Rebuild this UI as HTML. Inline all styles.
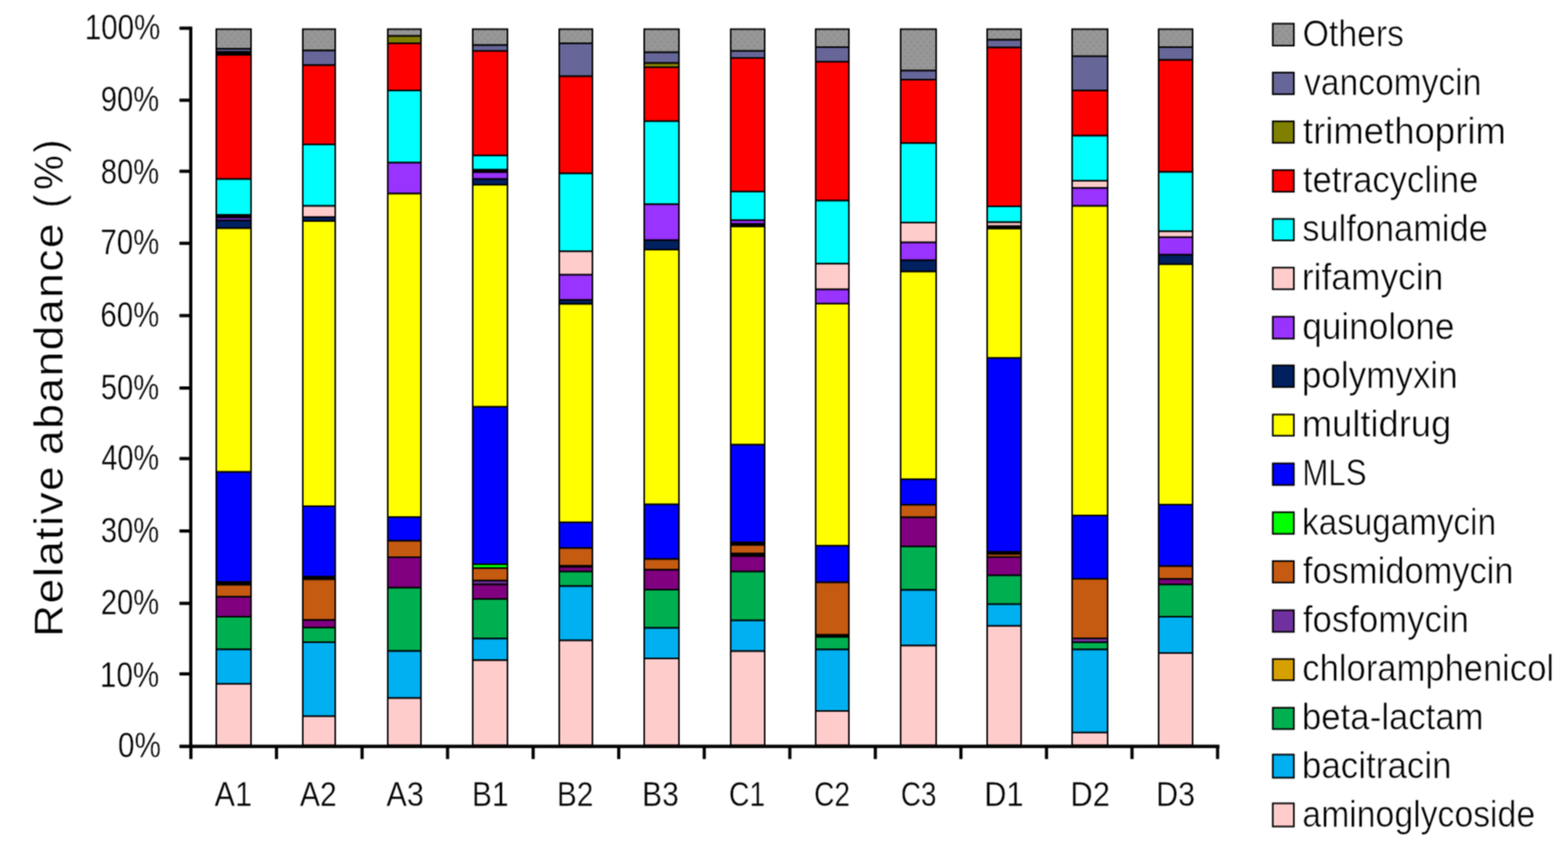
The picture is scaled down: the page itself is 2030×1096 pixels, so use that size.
<!DOCTYPE html>
<html lang="en"><head><meta charset="utf-8"><title>Relative abandance (%)</title>
<style>html,body{margin:0;padding:0;background:#fff;}body{width:2030px;height:1096px;overflow:hidden;}svg{display:block;}#chart{width:2030px;height:1096px;overflow:hidden;}text{font-family:"Liberation Sans",Arial,sans-serif;fill:#000;stroke:#fff;stroke-width:0;}.lg{stroke-width:0.7px;}.ax{stroke-width:0.4px;}.ti{stroke-width:0.4px;}</style></head><body>
<div id="chart"><svg width="2030" height="1096" viewBox="0 0 2030 1096">
<defs><filter id="soft" x="0" y="0" width="2030" height="1096" filterUnits="userSpaceOnUse" color-interpolation-filters="sRGB"><feConvolveMatrix order="3" kernelMatrix="1 2 1 2 4 2 1 2 1" divisor="16" edgeMode="duplicate" preserveAlpha="true"/></filter><pattern id="dots" width="8.3" height="9.4" patternUnits="userSpaceOnUse" patternTransform="translate(3.2,0.5)"><rect width="8.3" height="9.4" fill="#979797"/><circle cx="2" cy="2.2" r="1.35" fill="#898989"/><circle cx="6.15" cy="6.9" r="1.35" fill="#898989"/></pattern></defs>
<g filter="url(#soft)">
<rect width="2030" height="1096" fill="#fff"/>
<g stroke="#000" stroke-width="2.0">
<rect x="280.0" y="37.7" width="45.0" height="25.5" fill="url(#dots)"/>
<rect x="280.0" y="63.2" width="45.0" height="4.0" fill="#666699"/>
<rect x="280.0" y="67.2" width="45.0" height="3.8" fill="#000000"/>
<rect x="280.0" y="71.0" width="45.0" height="160.7" fill="#FF0000"/>
<rect x="280.0" y="231.7" width="45.0" height="46.3" fill="#00FFFF"/>
<rect x="280.0" y="278.0" width="45.0" height="3.6" fill="#000000"/>
<rect x="280.0" y="281.6" width="45.0" height="3.7" fill="#9933FF"/>
<rect x="280.0" y="285.3" width="45.0" height="10.0" fill="#002060"/>
<rect x="280.0" y="295.3" width="45.0" height="315.4" fill="#FFFF00"/>
<rect x="280.0" y="610.7" width="45.0" height="142.3" fill="#0000FF"/>
<rect x="280.0" y="753.0" width="45.0" height="3.7" fill="#000000"/>
<rect x="280.0" y="756.7" width="45.0" height="15.5" fill="#C55A11"/>
<rect x="280.0" y="772.2" width="45.0" height="25.8" fill="#800080"/>
<rect x="280.0" y="798.0" width="45.0" height="42.3" fill="#00B050"/>
<rect x="280.0" y="840.3" width="45.0" height="44.6" fill="#00B0F0"/>
<rect x="280.0" y="884.9" width="45.0" height="79.6" fill="#FFCCCC"/>
<rect x="392.0" y="37.7" width="42.0" height="27.7" fill="url(#dots)"/>
<rect x="392.0" y="65.4" width="42.0" height="18.9" fill="#666699"/>
<rect x="392.0" y="84.3" width="42.0" height="102.6" fill="#FF0000"/>
<rect x="392.0" y="186.9" width="42.0" height="79.6" fill="#00FFFF"/>
<rect x="392.0" y="266.5" width="42.0" height="14.4" fill="#FFCCCC"/>
<rect x="392.0" y="280.9" width="42.0" height="5.1" fill="#002060"/>
<rect x="392.0" y="286.0" width="42.0" height="369.0" fill="#FFFF00"/>
<rect x="392.0" y="655.0" width="42.0" height="91.3" fill="#0000FF"/>
<rect x="392.0" y="746.3" width="42.0" height="3.3" fill="#000000"/>
<rect x="392.0" y="749.6" width="42.0" height="52.7" fill="#C55A11"/>
<rect x="392.0" y="802.3" width="42.0" height="9.8" fill="#800080"/>
<rect x="392.0" y="812.1" width="42.0" height="18.9" fill="#00B050"/>
<rect x="392.0" y="831.0" width="42.0" height="95.8" fill="#00B0F0"/>
<rect x="392.0" y="926.8" width="42.0" height="37.7" fill="#FFCCCC"/>
<rect x="502.0" y="37.7" width="43.0" height="8.9" fill="url(#dots)"/>
<rect x="502.0" y="46.6" width="43.0" height="9.5" fill="#808000"/>
<rect x="502.0" y="56.1" width="43.0" height="61.0" fill="#FF0000"/>
<rect x="502.0" y="117.1" width="43.0" height="93.4" fill="#00FFFF"/>
<rect x="502.0" y="210.5" width="43.0" height="40.0" fill="#9933FF"/>
<rect x="502.0" y="250.5" width="43.0" height="418.6" fill="#FFFF00"/>
<rect x="502.0" y="669.1" width="43.0" height="30.7" fill="#0000FF"/>
<rect x="502.0" y="699.8" width="43.0" height="21.2" fill="#C55A11"/>
<rect x="502.0" y="721.0" width="43.0" height="39.5" fill="#800080"/>
<rect x="502.0" y="760.5" width="43.0" height="81.9" fill="#00B050"/>
<rect x="502.0" y="842.4" width="43.0" height="60.9" fill="#00B0F0"/>
<rect x="502.0" y="903.3" width="43.0" height="61.2" fill="#FFCCCC"/>
<rect x="612.0" y="37.7" width="45.0" height="20.7" fill="url(#dots)"/>
<rect x="612.0" y="58.4" width="45.0" height="7.5" fill="#666699"/>
<rect x="612.0" y="65.9" width="45.0" height="135.3" fill="#FF0000"/>
<rect x="612.0" y="201.2" width="45.0" height="18.5" fill="#00FFFF"/>
<rect x="612.0" y="219.7" width="45.0" height="3.1" fill="#000000"/>
<rect x="612.0" y="222.8" width="45.0" height="8.9" fill="#9933FF"/>
<rect x="612.0" y="231.7" width="45.0" height="7.4" fill="#002060"/>
<rect x="612.0" y="239.1" width="45.0" height="287.4" fill="#FFFF00"/>
<rect x="612.0" y="526.5" width="45.0" height="203.6" fill="#0000FF"/>
<rect x="612.0" y="730.1" width="45.0" height="5.1" fill="#00FF00"/>
<rect x="612.0" y="735.2" width="45.0" height="16.2" fill="#C55A11"/>
<rect x="612.0" y="751.4" width="45.0" height="4.9" fill="#7030A0"/>
<rect x="612.0" y="756.3" width="45.0" height="18.8" fill="#800080"/>
<rect x="612.0" y="775.1" width="45.0" height="51.2" fill="#00B050"/>
<rect x="612.0" y="826.3" width="45.0" height="28.0" fill="#00B0F0"/>
<rect x="612.0" y="854.3" width="45.0" height="110.2" fill="#FFCCCC"/>
<rect x="724.0" y="37.7" width="43.0" height="18.4" fill="url(#dots)"/>
<rect x="724.0" y="56.1" width="43.0" height="42.6" fill="#666699"/>
<rect x="724.0" y="98.7" width="43.0" height="125.7" fill="#FF0000"/>
<rect x="724.0" y="224.4" width="43.0" height="100.8" fill="#00FFFF"/>
<rect x="724.0" y="325.2" width="43.0" height="30.4" fill="#FFCCCC"/>
<rect x="724.0" y="355.6" width="43.0" height="32.4" fill="#9933FF"/>
<rect x="724.0" y="388.0" width="43.0" height="5.3" fill="#002060"/>
<rect x="724.0" y="393.3" width="43.0" height="282.6" fill="#FFFF00"/>
<rect x="724.0" y="675.9" width="43.0" height="33.3" fill="#0000FF"/>
<rect x="724.0" y="709.2" width="43.0" height="23.0" fill="#C55A11"/>
<rect x="724.0" y="732.2" width="43.0" height="1.4" fill="#000000"/>
<rect x="724.0" y="733.6" width="43.0" height="6.0" fill="#800080"/>
<rect x="724.0" y="739.6" width="43.0" height="18.8" fill="#00B050"/>
<rect x="724.0" y="758.4" width="43.0" height="70.3" fill="#00B0F0"/>
<rect x="724.0" y="828.7" width="43.0" height="135.8" fill="#FFCCCC"/>
<rect x="834.0" y="37.7" width="45.0" height="30.0" fill="url(#dots)"/>
<rect x="834.0" y="67.7" width="45.0" height="13.9" fill="#666699"/>
<rect x="834.0" y="81.6" width="45.0" height="5.4" fill="#808000"/>
<rect x="834.0" y="87.0" width="45.0" height="69.8" fill="#FF0000"/>
<rect x="834.0" y="156.8" width="45.0" height="107.5" fill="#00FFFF"/>
<rect x="834.0" y="264.3" width="45.0" height="46.5" fill="#9933FF"/>
<rect x="834.0" y="310.8" width="45.0" height="12.2" fill="#002060"/>
<rect x="834.0" y="323.0" width="45.0" height="329.7" fill="#FFFF00"/>
<rect x="834.0" y="652.7" width="45.0" height="70.7" fill="#0000FF"/>
<rect x="834.0" y="723.4" width="45.0" height="13.9" fill="#C55A11"/>
<rect x="834.0" y="737.3" width="45.0" height="25.7" fill="#800080"/>
<rect x="834.0" y="763.0" width="45.0" height="49.5" fill="#00B050"/>
<rect x="834.0" y="812.5" width="45.0" height="39.5" fill="#00B0F0"/>
<rect x="834.0" y="852.0" width="45.0" height="112.5" fill="#FFCCCC"/>
<rect x="946.0" y="37.7" width="44.0" height="28.2" fill="url(#dots)"/>
<rect x="946.0" y="65.9" width="44.0" height="9.1" fill="#666699"/>
<rect x="946.0" y="75.0" width="44.0" height="172.9" fill="#FF0000"/>
<rect x="946.0" y="247.9" width="44.0" height="37.0" fill="#00FFFF"/>
<rect x="946.0" y="284.9" width="44.0" height="4.9" fill="#9933FF"/>
<rect x="946.0" y="289.8" width="44.0" height="3.3" fill="#000000"/>
<rect x="946.0" y="293.1" width="44.0" height="282.4" fill="#FFFF00"/>
<rect x="946.0" y="575.5" width="44.0" height="126.4" fill="#0000FF"/>
<rect x="946.0" y="701.9" width="44.0" height="3.3" fill="#000000"/>
<rect x="946.0" y="705.2" width="44.0" height="11.1" fill="#C55A11"/>
<rect x="946.0" y="716.3" width="44.0" height="3.3" fill="#000000"/>
<rect x="946.0" y="719.6" width="44.0" height="20.0" fill="#800080"/>
<rect x="946.0" y="739.6" width="44.0" height="63.2" fill="#00B050"/>
<rect x="946.0" y="802.8" width="44.0" height="39.8" fill="#00B0F0"/>
<rect x="946.0" y="842.6" width="44.0" height="121.9" fill="#FFCCCC"/>
<rect x="1056.0" y="37.7" width="43.0" height="23.3" fill="url(#dots)"/>
<rect x="1056.0" y="61.0" width="43.0" height="18.9" fill="#666699"/>
<rect x="1056.0" y="79.9" width="43.0" height="179.7" fill="#FF0000"/>
<rect x="1056.0" y="259.6" width="43.0" height="81.6" fill="#00FFFF"/>
<rect x="1056.0" y="341.2" width="43.0" height="33.3" fill="#FFCCCC"/>
<rect x="1056.0" y="374.5" width="43.0" height="18.4" fill="#9933FF"/>
<rect x="1056.0" y="392.9" width="43.0" height="313.4" fill="#FFFF00"/>
<rect x="1056.0" y="706.3" width="43.0" height="47.3" fill="#0000FF"/>
<rect x="1056.0" y="753.6" width="43.0" height="68.0" fill="#C55A11"/>
<rect x="1056.0" y="821.6" width="43.0" height="2.6" fill="#000000"/>
<rect x="1056.0" y="824.2" width="43.0" height="16.2" fill="#00B050"/>
<rect x="1056.0" y="840.4" width="43.0" height="79.6" fill="#00B0F0"/>
<rect x="1056.0" y="920.0" width="43.0" height="44.5" fill="#FFCCCC"/>
<rect x="1166.0" y="37.7" width="46.0" height="53.7" fill="url(#dots)"/>
<rect x="1166.0" y="91.4" width="46.0" height="11.7" fill="#666699"/>
<rect x="1166.0" y="103.1" width="46.0" height="82.1" fill="#FF0000"/>
<rect x="1166.0" y="185.2" width="46.0" height="102.8" fill="#00FFFF"/>
<rect x="1166.0" y="288.0" width="46.0" height="25.7" fill="#FFCCCC"/>
<rect x="1166.0" y="313.7" width="46.0" height="23.1" fill="#9933FF"/>
<rect x="1166.0" y="336.8" width="46.0" height="14.6" fill="#002060"/>
<rect x="1166.0" y="351.4" width="46.0" height="268.8" fill="#FFFF00"/>
<rect x="1166.0" y="620.2" width="46.0" height="33.0" fill="#0000FF"/>
<rect x="1166.0" y="653.2" width="46.0" height="16.2" fill="#C55A11"/>
<rect x="1166.0" y="669.4" width="46.0" height="37.7" fill="#800080"/>
<rect x="1166.0" y="707.1" width="46.0" height="56.3" fill="#00B050"/>
<rect x="1166.0" y="763.4" width="46.0" height="72.0" fill="#00B0F0"/>
<rect x="1166.0" y="835.4" width="46.0" height="129.1" fill="#FFCCCC"/>
<rect x="1278.0" y="37.7" width="44.0" height="13.8" fill="url(#dots)"/>
<rect x="1278.0" y="51.5" width="44.0" height="10.0" fill="#666699"/>
<rect x="1278.0" y="61.5" width="44.0" height="205.5" fill="#FF0000"/>
<rect x="1278.0" y="267.0" width="44.0" height="20.6" fill="#00FFFF"/>
<rect x="1278.0" y="287.6" width="44.0" height="5.1" fill="#FFCCCC"/>
<rect x="1278.0" y="292.7" width="44.0" height="3.1" fill="#000000"/>
<rect x="1278.0" y="295.8" width="44.0" height="167.5" fill="#FFFF00"/>
<rect x="1278.0" y="463.3" width="44.0" height="250.9" fill="#0000FF"/>
<rect x="1278.0" y="714.2" width="44.0" height="2.6" fill="#000000"/>
<rect x="1278.0" y="716.8" width="44.0" height="4.0" fill="#C55A11"/>
<rect x="1278.0" y="720.8" width="44.0" height="23.7" fill="#800080"/>
<rect x="1278.0" y="744.5" width="44.0" height="37.3" fill="#00B050"/>
<rect x="1278.0" y="781.8" width="44.0" height="28.1" fill="#00B0F0"/>
<rect x="1278.0" y="809.9" width="44.0" height="154.6" fill="#FFCCCC"/>
<rect x="1388.0" y="37.7" width="46.0" height="35.1" fill="url(#dots)"/>
<rect x="1388.0" y="72.8" width="46.0" height="44.3" fill="#666699"/>
<rect x="1388.0" y="117.1" width="46.0" height="58.5" fill="#FF0000"/>
<rect x="1388.0" y="175.6" width="46.0" height="58.3" fill="#00FFFF"/>
<rect x="1388.0" y="233.9" width="46.0" height="9.4" fill="#FFCCCC"/>
<rect x="1388.0" y="243.3" width="46.0" height="23.2" fill="#9933FF"/>
<rect x="1388.0" y="266.5" width="46.0" height="400.6" fill="#FFFF00"/>
<rect x="1388.0" y="667.1" width="46.0" height="81.9" fill="#0000FF"/>
<rect x="1388.0" y="749.0" width="46.0" height="77.0" fill="#C55A11"/>
<rect x="1388.0" y="826.0" width="46.0" height="5.1" fill="#7030A0"/>
<rect x="1388.0" y="831.1" width="46.0" height="9.3" fill="#00B050"/>
<rect x="1388.0" y="840.4" width="46.0" height="107.5" fill="#00B0F0"/>
<rect x="1388.0" y="947.9" width="46.0" height="16.6" fill="#FFCCCC"/>
<rect x="1500.0" y="37.7" width="44.0" height="23.3" fill="url(#dots)"/>
<rect x="1500.0" y="61.0" width="44.0" height="16.6" fill="#666699"/>
<rect x="1500.0" y="77.6" width="44.0" height="144.9" fill="#FF0000"/>
<rect x="1500.0" y="222.5" width="44.0" height="76.8" fill="#00FFFF"/>
<rect x="1500.0" y="299.3" width="44.0" height="7.6" fill="#FFCCCC"/>
<rect x="1500.0" y="306.9" width="44.0" height="22.8" fill="#9933FF"/>
<rect x="1500.0" y="329.7" width="44.0" height="12.2" fill="#002060"/>
<rect x="1500.0" y="341.9" width="44.0" height="311.1" fill="#FFFF00"/>
<rect x="1500.0" y="653.0" width="44.0" height="79.6" fill="#0000FF"/>
<rect x="1500.0" y="732.6" width="44.0" height="16.6" fill="#C55A11"/>
<rect x="1500.0" y="749.2" width="44.0" height="7.1" fill="#800080"/>
<rect x="1500.0" y="756.3" width="44.0" height="41.7" fill="#00B050"/>
<rect x="1500.0" y="798.0" width="44.0" height="47.0" fill="#00B0F0"/>
<rect x="1500.0" y="845.0" width="44.0" height="119.5" fill="#FFCCCC"/>
</g>
<g fill="#000">
<rect x="244.9" y="34.4" width="4.1" height="933.4"/>
<rect x="232.3" y="963.6" width="1346.4" height="4.4"/>
<rect x="232.3" y="34.4" width="14" height="4.2"/>
<rect x="232.3" y="127.6" width="14" height="4.2"/>
<rect x="232.3" y="219.5" width="14" height="4.2"/>
<rect x="232.3" y="312.7" width="14" height="4.2"/>
<rect x="232.3" y="406.3" width="14" height="4.2"/>
<rect x="232.3" y="500.0" width="14" height="4.2"/>
<rect x="232.3" y="591.3" width="14" height="4.2"/>
<rect x="232.3" y="685.0" width="14" height="4.2"/>
<rect x="232.3" y="778.6" width="14" height="4.2"/>
<rect x="232.3" y="869.9" width="14" height="4.2"/>
<rect x="245.1" y="965" width="4.1" height="17.2"/>
<rect x="355.9" y="965" width="4.1" height="17.2"/>
<rect x="466.7" y="965" width="4.1" height="17.2"/>
<rect x="577.4" y="965" width="4.1" height="17.2"/>
<rect x="688.2" y="965" width="4.1" height="17.2"/>
<rect x="799.0" y="965" width="4.1" height="17.2"/>
<rect x="909.7" y="965" width="4.1" height="17.2"/>
<rect x="1020.5" y="965" width="4.1" height="17.2"/>
<rect x="1131.2" y="965" width="4.1" height="17.2"/>
<rect x="1242.0" y="965" width="4.1" height="17.2"/>
<rect x="1352.8" y="965" width="4.1" height="17.2"/>
<rect x="1463.5" y="965" width="4.1" height="17.2"/>
<rect x="1574.3" y="965" width="4.1" height="17.2"/>
</g>
<text class="ax" transform="translate(109.63,50.8) scale(0.8339,1)" font-size="46">100%</text>
<text class="ax" transform="translate(130.51,144.4) scale(0.8218,1)" font-size="46">90%</text>
<text class="ax" transform="translate(130.51,238.3) scale(0.8218,1)" font-size="46">80%</text>
<text class="ax" transform="translate(130.12,329.1) scale(0.8261,1)" font-size="46">70%</text>
<text class="ax" transform="translate(130.12,423.2) scale(0.8261,1)" font-size="46">60%</text>
<text class="ax" transform="translate(130.51,516.6) scale(0.8218,1)" font-size="46">50%</text>
<text class="ax" transform="translate(131.28,607.6) scale(0.8132,1)" font-size="46">40%</text>
<text class="ax" transform="translate(130.51,701.6) scale(0.8218,1)" font-size="46">30%</text>
<text class="ax" transform="translate(130.51,794.7) scale(0.8218,1)" font-size="46">20%</text>
<text class="ax" transform="translate(129.33,888.7) scale(0.8349,1)" font-size="46">10%</text>
<text class="ax" transform="translate(152.86,979.9) scale(0.8344,1)" font-size="46">0%</text>
<text class="ax" transform="translate(277.70,1043.0) scale(0.9013,1)" font-size="44">A1</text>
<text class="ax" transform="translate(388.31,1043.0) scale(0.8875,1)" font-size="44">A2</text>
<text class="ax" transform="translate(500.30,1043.0) scale(0.9013,1)" font-size="44">A3</text>
<text class="ax" transform="translate(611.10,1043.0) scale(0.8838,1)" font-size="44">B1</text>
<text class="ax" transform="translate(721.02,1043.0) scale(0.8775,1)" font-size="44">B2</text>
<text class="ax" transform="translate(831.30,1043.0) scale(0.8838,1)" font-size="44">B3</text>
<text class="ax" transform="translate(943.69,1043.0) scale(0.8353,1)" font-size="44">C1</text>
<text class="ax" transform="translate(1054.02,1043.0) scale(0.8268,1)" font-size="44">C2</text>
<text class="ax" transform="translate(1166.13,1043.0) scale(0.8236,1)" font-size="44">C3</text>
<text class="ax" transform="translate(1274.22,1043.0) scale(0.9031,1)" font-size="44">D1</text>
<text class="ax" transform="translate(1385.69,1043.0) scale(0.9111,1)" font-size="44">D2</text>
<text class="ax" transform="translate(1496.76,1043.0) scale(0.8951,1)" font-size="44">D3</text>
<text class="ti" transform="translate(81.3,818.8) rotate(-90) translate(-5.15,0) scale(1.0900,1)" font-size="52.5" letter-spacing="1.81">Relative</text>
<text class="ti" transform="translate(81.3,818.8) rotate(-90) translate(230.14,0) scale(1.0900,1)" font-size="52.5" letter-spacing="1.88">abandance</text>
<text class="ti" transform="translate(81.3,818.8) rotate(-90) translate(549.58,0) scale(0.9841,1)" font-size="52.5">(</text>
<text class="ti" transform="translate(81.3,818.8) rotate(-90) translate(573.08,0) scale(0.9618,1)" font-size="52.5">%</text>
<text class="ti" transform="translate(81.3,818.8) rotate(-90) translate(621.51,0) scale(0.9448,1)" font-size="52.5">)</text>
<text class="lg" transform="translate(1686.51,59.9) scale(0.9107,1)" font-size="48">Others</text>
<text class="lg" transform="translate(1688.27,122.7) scale(0.9063,1)" font-size="48">vancomycin</text>
<text class="lg" transform="translate(1686.75,185.7) scale(0.9857,1)" font-size="48">trimethoprim</text>
<text class="lg" transform="translate(1686.80,249.0) scale(0.9360,1)" font-size="48">tetracycline</text>
<text class="lg" transform="translate(1685.92,312.0) scale(0.9289,1)" font-size="48">sulfonamide</text>
<text class="lg" transform="translate(1685.50,375.2) scale(0.9537,1)" font-size="48">rifamycin</text>
<text class="lg" transform="translate(1686.03,439.0) scale(0.9468,1)" font-size="48">quinolone</text>
<text class="lg" transform="translate(1685.52,501.6) scale(0.9450,1)" font-size="48">polymyxin</text>
<text class="lg" transform="translate(1685.41,564.6) scale(0.9803,1)" font-size="48">multidrug</text>
<text class="lg" transform="translate(1686.06,628.4) scale(0.8431,1)" font-size="48">MLS</text>
<text class="lg" transform="translate(1685.69,691.6) scale(0.8969,1)" font-size="48">kasugamycin</text>
<text class="lg" transform="translate(1686.81,754.6) scale(0.9295,1)" font-size="48">fosmidomycin</text>
<text class="lg" transform="translate(1686.80,818.4) scale(0.9373,1)" font-size="48">fosfomycin</text>
<text class="lg" transform="translate(1686.06,881.0) scale(0.9326,1)" font-size="48">chloramphenicol</text>
<text class="lg" transform="translate(1685.55,944.2) scale(0.9381,1)" font-size="48">beta-lactam</text>
<text class="lg" transform="translate(1685.53,1007.2) scale(0.9430,1)" font-size="48">bacitracin</text>
<text class="lg" transform="translate(1686.11,1070.4) scale(0.9110,1)" font-size="48">aminoglycoside</text>
<rect x="1647.8" y="30.6" width="27.3" height="28.4" fill="url(#dots)" stroke="#000" stroke-width="2.1"/>
<rect x="1647.8" y="93.9" width="27.3" height="28.0" fill="#666699" stroke="#000" stroke-width="2.1"/>
<rect x="1647.8" y="157.0" width="27.3" height="27.8" fill="#808000" stroke="#000" stroke-width="2.1"/>
<rect x="1647.8" y="220.1" width="27.3" height="28.0" fill="#FF0000" stroke="#000" stroke-width="2.1"/>
<rect x="1647.8" y="283.3" width="27.3" height="27.8" fill="#00FFFF" stroke="#000" stroke-width="2.1"/>
<rect x="1647.8" y="346.3" width="27.3" height="28.0" fill="#FFCCCC" stroke="#000" stroke-width="2.1"/>
<rect x="1647.8" y="409.8" width="27.3" height="28.4" fill="#9933FF" stroke="#000" stroke-width="2.1"/>
<rect x="1647.8" y="472.8" width="27.3" height="28.0" fill="#002060" stroke="#000" stroke-width="2.1"/>
<rect x="1647.8" y="536.4" width="27.3" height="27.4" fill="#FFFF00" stroke="#000" stroke-width="2.1"/>
<rect x="1647.8" y="599.6" width="27.3" height="28.0" fill="#0000FF" stroke="#000" stroke-width="2.1"/>
<rect x="1647.8" y="662.8" width="27.3" height="28.0" fill="#00FF00" stroke="#000" stroke-width="2.1"/>
<rect x="1647.8" y="726.0" width="27.3" height="27.8" fill="#C55A11" stroke="#000" stroke-width="2.1"/>
<rect x="1647.8" y="789.6" width="27.3" height="28.0" fill="#7030A0" stroke="#000" stroke-width="2.1"/>
<rect x="1647.8" y="852.8" width="27.3" height="27.4" fill="#D6A000" stroke="#000" stroke-width="2.1"/>
<rect x="1647.8" y="915.8" width="27.3" height="27.6" fill="#00B050" stroke="#000" stroke-width="2.1"/>
<rect x="1647.8" y="976.4" width="27.3" height="30.0" fill="#00B0F0" stroke="#000" stroke-width="2.1"/>
<rect x="1647.8" y="1039.5" width="27.3" height="30.0" fill="#FFCCCC" stroke="#000" stroke-width="2.1"/>
</g>
</svg></div></body></html>
